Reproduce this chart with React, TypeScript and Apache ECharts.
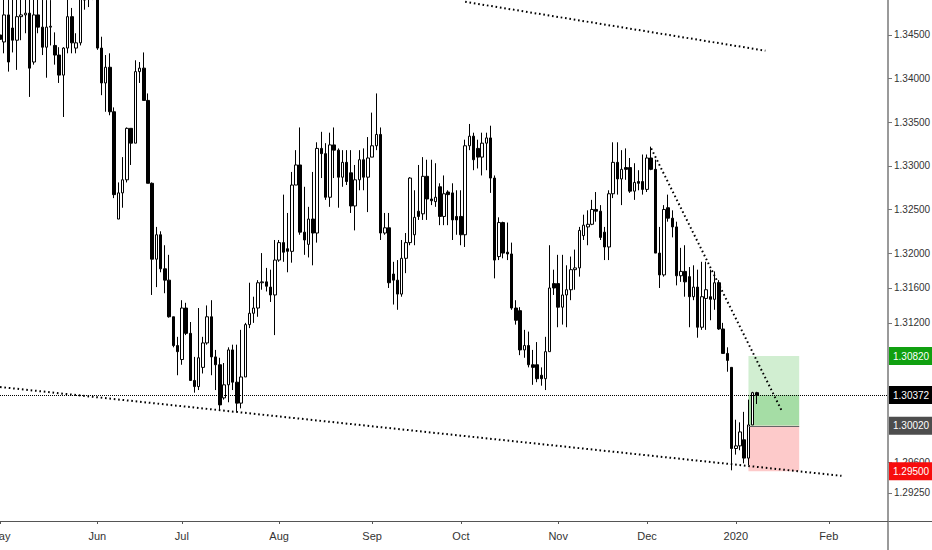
import React, { useEffect, useRef } from "react";
import * as echarts from "echarts";

// ---- calendar (trading days, TradingView style: weekdays, holidays skipped) ----
const START_DATE = "2019-05-01";
const CATEGORY_COUNT = 211;
const SKIPPED_DAYS = ["2019-12-25", "2020-01-01"];
const MONTH_NAMES = ["Jan", "Feb", "Mar", "Apr", "May", "Jun", "Jul", "Aug", "Sep", "Oct", "Nov", "Dec"];

// ---- daily OHLC (USD/CAD) ----
const opens = [
  1.3450, 1.3442, 1.3473, 1.3458, 1.3444, 1.3471, 1.3473, 1.3475, 1.3419, 1.3473,
  1.3459, 1.3436, 1.3459, 1.3438, 1.3427, 1.3404, 1.3435, 1.3471, 1.3435, 1.3441,
  1.3493, 1.3495, 1.3500, 1.3510, 1.3435, 1.3395, 1.3413, 1.3362, 1.3239, 1.3269,
  1.3284, 1.3343, 1.3326, 1.3408, 1.3412, 1.3375, 1.3280, 1.3193, 1.3221, 1.3182,
  1.3169, 1.3127, 1.3094, 1.3078, 1.3137, 1.3108, 1.3054, 1.3047, 1.3069, 1.3097,
  1.3127, 1.3081, 1.3072, 1.3034, 1.3049, 1.3089, 1.3052, 1.3028, 1.3058, 1.3118,
  1.3131, 1.3137, 1.3166, 1.3167, 1.3161, 1.3152, 1.3192, 1.3212, 1.3205, 1.3202,
  1.3278, 1.3301, 1.3224, 1.3210, 1.3239, 1.3223, 1.3320, 1.3314, 1.3264, 1.3324,
  1.3318, 1.3287, 1.3304, 1.3292, 1.3254, 1.3284, 1.3307, 1.3287, 1.3310, 1.3323,
  1.3336, 1.3223, 1.3229, 1.3176, 1.3169, 1.3153, 1.3194, 1.3212, 1.3221, 1.3248,
  1.3245, 1.3288, 1.3262, 1.3259, 1.3276, 1.3242, 1.3270, 1.3269, 1.3242, 1.3242,
  1.3221, 1.3323, 1.3334, 1.3320, 1.3310, 1.3326, 1.3332, 1.3286, 1.3196, 1.3235,
  1.3201, 1.3199, 1.3137, 1.3134, 1.3089, 1.3094, 1.3072, 1.3072, 1.3060, 1.3056,
  1.3087, 1.3165, 1.3165, 1.3138, 1.3152, 1.3158, 1.3181, 1.3183, 1.3220, 1.3230,
  1.3233, 1.3250, 1.3248, 1.3224, 1.3207, 1.3268, 1.3304, 1.3285, 1.3298, 1.3298,
  1.3271, 1.3282, 1.3282, 1.3273, 1.3309, 1.3296, 1.3200, 1.3175, 1.3252, 1.3240,
  1.3230, 1.3174, 1.3179, 1.3173, 1.3150, 1.3161, 1.3115, 1.3148, 1.3150, 1.3147,
  1.3166, 1.3113, 1.3085, 1.3069, 1.2976, 1.2979, 1.2986, 1.2965, 1.3003, 1.3040,
];
const closes = [
  1.3445, 1.3473, 1.3419, 1.3444, 1.3471, 1.3473, 1.3475, 1.3412, 1.3473, 1.3459,
  1.3436, 1.3459, 1.3460, 1.3427, 1.3404, 1.3435, 1.3471, 1.3441, 1.3441, 1.3493,
  1.3490, 1.3500, 1.3510, 1.3435, 1.3395, 1.3413, 1.3362, 1.3267, 1.3269, 1.3284,
  1.3343, 1.3326, 1.3408, 1.3412, 1.3375, 1.3280, 1.3193, 1.3221, 1.3182, 1.3169,
  1.3127, 1.3094, 1.3087, 1.3137, 1.3108, 1.3054, 1.3047, 1.3080, 1.3097, 1.3127,
  1.3081, 1.3072, 1.3026, 1.3049, 1.3089, 1.3052, 1.3028, 1.3058, 1.3118, 1.3131,
  1.3137, 1.3166, 1.3167, 1.3162, 1.3152, 1.3192, 1.3212, 1.3201, 1.3202, 1.3278,
  1.3301, 1.3224, 1.3215, 1.3239, 1.3223, 1.3320, 1.3314, 1.3264, 1.3324, 1.3318,
  1.3287, 1.3304, 1.3282, 1.3254, 1.3284, 1.3307, 1.3287, 1.3309, 1.3323, 1.3336,
  1.3223, 1.3229, 1.3166, 1.3169, 1.3153, 1.3194, 1.3212, 1.3286, 1.3241, 1.3242,
  1.3288, 1.3262, 1.3260, 1.3264, 1.3242, 1.3268, 1.3267, 1.3238, 1.3238, 1.3221,
  1.3323, 1.3334, 1.3307, 1.3310, 1.3326, 1.3332, 1.3286, 1.3192, 1.3235, 1.3200,
  1.3199, 1.3137, 1.3123, 1.3089, 1.3094, 1.3072, 1.3069, 1.3056, 1.3056, 1.3087,
  1.3160, 1.3160, 1.3138, 1.3152, 1.3158, 1.3181, 1.3183, 1.3226, 1.3232, 1.3233,
  1.3250, 1.3248, 1.3218, 1.3207, 1.3268, 1.3304, 1.3285, 1.3296, 1.3296, 1.3271,
  1.3281, 1.3280, 1.3273, 1.3309, 1.3296, 1.3200, 1.3175, 1.3250, 1.3240, 1.3230,
  1.3174, 1.3179, 1.3167, 1.3150, 1.3161, 1.3115, 1.3150, 1.3158, 1.3147, 1.3166,
  1.3113, 1.3085, 1.3077, 1.2976, 1.2979, 1.2995, 1.2965, 1.3003, 1.3040, 1.3037,
];
const lows = [
  1.3387, 1.3429, 1.3408, 1.3430, 1.3410, 1.3444, 1.3452, 1.3379, 1.3416, 1.3452,
  1.3427, 1.3401, 1.3438, 1.3416, 1.3395, 1.3356, 1.3429, 1.3429, 1.3429, 1.3438,
  1.3479, 1.3482, 1.3490, 1.3433, 1.3381, 1.3362, 1.3358, 1.3263, 1.3239, 1.3252,
  1.3281, 1.3301, 1.3326, 1.3395, 1.3375, 1.3280, 1.3152, 1.3161, 1.3178, 1.3154,
  1.3126, 1.3092, 1.3060, 1.3072, 1.3106, 1.3054, 1.3040, 1.3043, 1.3062, 1.3095,
  1.3060, 1.3043, 1.3020, 1.3032, 1.3029, 1.3043, 1.3018, 1.3022, 1.3058, 1.3114,
  1.3120, 1.3127, 1.3158, 1.3156, 1.3144, 1.3106, 1.3190, 1.3190, 1.3178, 1.3189,
  1.3278, 1.3221, 1.3198, 1.3195, 1.3186, 1.3212, 1.3286, 1.3261, 1.3253, 1.3286,
  1.3252, 1.3276, 1.3278, 1.3246, 1.3226, 1.3272, 1.3272, 1.3247, 1.3310, 1.3318,
  1.3215, 1.3221, 1.3160, 1.3141, 1.3135, 1.3150, 1.3177, 1.3209, 1.3209, 1.3238,
  1.3238, 1.3238, 1.3255, 1.3253, 1.3232, 1.3232, 1.3232, 1.3215, 1.3221, 1.3209,
  1.3207, 1.3318, 1.3295, 1.3297, 1.3289, 1.3295, 1.3269, 1.3171, 1.3192, 1.3194,
  1.3192, 1.3135, 1.3118, 1.3083, 1.3080, 1.3069, 1.3049, 1.3052, 1.3048, 1.3043,
  1.3087, 1.3152, 1.3115, 1.3118, 1.3115, 1.3146, 1.3158, 1.3173, 1.3215, 1.3209,
  1.3232, 1.3236, 1.3215, 1.3192, 1.3192, 1.3263, 1.3267, 1.3255, 1.3284, 1.3269,
  1.3261, 1.3272, 1.3267, 1.3270, 1.3295, 1.3200, 1.3160, 1.3173, 1.3236, 1.3218,
  1.3163, 1.3167, 1.3150, 1.3115, 1.3146, 1.3103, 1.3112, 1.3112, 1.3123, 1.3135,
  1.3112, 1.3085, 1.3064, 1.2951, 1.2969, 1.2974, 1.2959, 1.2957, 1.3003, 1.3027,
];
const highs = [
  1.3462, 1.3495, 1.3492, 1.3492, 1.3495, 1.3495, 1.3498, 1.3497, 1.3495, 1.3495,
  1.3492, 1.3490, 1.3490, 1.3453, 1.3436, 1.3436, 1.3492, 1.3481, 1.3452, 1.3505,
  1.3505, 1.3520, 1.3525, 1.3515, 1.3448, 1.3427, 1.3429, 1.3367, 1.3281, 1.3310,
  1.3344, 1.3343, 1.3421, 1.3419, 1.3430, 1.3383, 1.3281, 1.3230, 1.3225, 1.3209,
  1.3198, 1.3127, 1.3104, 1.3146, 1.3143, 1.3121, 1.3081, 1.3137, 1.3104, 1.3140,
  1.3146, 1.3089, 1.3080, 1.3074, 1.3092, 1.3095, 1.3095, 1.3112, 1.3120, 1.3166,
  1.3150, 1.3169, 1.3200, 1.3183, 1.3181, 1.3215, 1.3215, 1.3267, 1.3246, 1.3293,
  1.3318, 1.3344, 1.3276, 1.3253, 1.3293, 1.3327, 1.3339, 1.3326, 1.3338, 1.3344,
  1.3320, 1.3318, 1.3318, 1.3318, 1.3301, 1.3318, 1.3320, 1.3333, 1.3361, 1.3383,
  1.3344, 1.3246, 1.3246, 1.3190, 1.3192, 1.3215, 1.3223, 1.3287, 1.3272, 1.3301,
  1.3310, 1.3307, 1.3307, 1.3303, 1.3280, 1.3289, 1.3272, 1.3280, 1.3272, 1.3272,
  1.3330, 1.3348, 1.3338, 1.3330, 1.3338, 1.3338, 1.3346, 1.3289, 1.3241, 1.3236,
  1.3235, 1.3212, 1.3146, 1.3138, 1.3112, 1.3110, 1.3089, 1.3098, 1.3069, 1.3104,
  1.3209, 1.3181, 1.3198, 1.3198, 1.3186, 1.3196, 1.3204, 1.3230, 1.3244, 1.3249,
  1.3261, 1.3270, 1.3255, 1.3230, 1.3272, 1.3327, 1.3327, 1.3318, 1.3320, 1.3309,
  1.3303, 1.3295, 1.3313, 1.3313, 1.3322, 1.3307, 1.3230, 1.3255, 1.3267, 1.3249,
  1.3236, 1.3206, 1.3209, 1.3184, 1.3186, 1.3181, 1.3190, 1.3190, 1.3181, 1.3179,
  1.3169, 1.3120, 1.3092, 1.3069, 1.3009, 1.3006, 1.3018, 1.3032, 1.3041, 1.3041,
];

// ---- price axis ----
const Y_MIN = 1.28929;
const Y_MAX = 1.34901;
const Y_TICKS = [1.2925, 1.296, 1.312, 1.316, 1.32, 1.325, 1.33, 1.335, 1.34, 1.345];

// ---- drawings ----
const LAST_PRICE = 1.30372;
const TARGET_PRICE = 1.3082;
const ENTRY_PRICE = 1.3002;
const STOP_PRICE = 1.295;
const POSITION_FROM = 177; // trading-day index
const POSITION_TO = 189;
// [ [fromIndex, fromPrice], [toIndex, toPrice] ]
const TREND_LINES = [
  [[110, 1.3488], [181, 1.3432]],
  [[0, 1.30465], [199, 1.29447]],
  [[154, 1.332], [185, 1.3018]],
];

const W = 932;
const H = 550;
const GRID_RIGHT = 44;
const GRID_BOTTOM = 29;
const FONT = '"Liberation Sans", Arial, sans-serif';

function tradingDays(): string[] {
  const out: string[] = [];
  const d = new Date(START_DATE + "T00:00:00Z");
  while (out.length < CATEGORY_COUNT) {
    const wd = d.getUTCDay();
    const s = d.toISOString().slice(0, 10);
    if (wd !== 0 && wd !== 6 && SKIPPED_DAYS.indexOf(s) < 0) out.push(s);
    d.setUTCDate(d.getUTCDate() + 1);
  }
  return out;
}

export default function App() {
  const ref = useRef<HTMLDivElement>(null);

  useEffect(() => {
    if (!ref.current) return;
    const chart = echarts.init(ref.current, undefined, { renderer: "svg" });
    const dates = tradingDays();
    const monthStart = dates.map((s, i) => i === 0 || s.slice(5, 7) !== dates[i - 1].slice(5, 7));
    const candles = opens.map((o, i) => [o, closes[i], lows[i], highs[i]]);

    const priceTag = (value: number, bg: string, lineStyle: any) => ({
      yAxis: value,
      lineStyle,
      label: {
        show: true,
        position: "end",
        distance: 1,
        formatter: value.toFixed(5),
        color: "#fff",
        opacity: 1,
        backgroundColor: bg,
        padding: [4, 3, 4, 4],
        fontSize: 10,
        fontFamily: FONT,
      },
    });
    const hidden = { color: "rgba(0,0,0,0)", width: 1, type: "solid" };

    const trendData = TREND_LINES.map(([a, b]) => [
      { coord: a, lineStyle: { color: "#000", width: 2, type: [1.6, 2.8] }, label: { show: false } },
      { coord: b },
    ]);

    chart.setOption({
      animation: false,
      grid: {
        left: 0,
        right: GRID_RIGHT,
        top: 0,
        bottom: GRID_BOTTOM,
        containLabel: false,
        outerBoundsMode: "none",
      },
      xAxis: {
        type: "category",
        data: dates,
        boundaryGap: false,
        axisLine: { show: true, lineStyle: { color: "#555", width: 1 } },
        axisTick: {
          show: true,
          length: 3,
          interval: (i: number) => monthStart[i],
          lineStyle: { color: "#555" },
        },
        axisLabel: {
          show: true,
          interval: (i: number) => monthStart[i],
          margin: 9,
          fontSize: 11,
          color: "#333",
          fontFamily: FONT,
          formatter: (v: string) => {
            const m = parseInt(v.slice(5, 7), 10);
            return m === 1 ? v.slice(0, 4) : MONTH_NAMES[m - 1];
          },
        },
        splitLine: { show: false },
      },
      yAxis: {
        type: "value",
        position: "right",
        min: Y_MIN,
        max: Y_MAX,
        scale: true,
        splitLine: { show: false },
        axisLine: { show: true, lineStyle: { color: "#9a9a9a", width: 2 } },
        axisTick: { show: true, length: 4, customValues: Y_TICKS, lineStyle: { color: "#777" } },
        axisLabel: {
          show: true,
          customValues: Y_TICKS,
          margin: 6,
          fontSize: 10,
          color: "#333",
          fontFamily: FONT,
          formatter: (v: number) => v.toFixed(5),
        },
      },
      series: [
        {
          type: "candlestick",
          data: candles,
          barWidth: 3,
          clip: true,
          itemStyle: {
            color: "#fff",
            color0: "#000",
            borderColor: "#000",
            borderColor0: "#000",
            borderWidth: 1,
          },
          markArea: {
            silent: true,
            data: [
              [
                { coord: [POSITION_FROM, LAST_PRICE], itemStyle: { color: "#d1eed1" } },
                { coord: [POSITION_TO, TARGET_PRICE] },
              ],
              [
                { coord: [POSITION_FROM, ENTRY_PRICE], itemStyle: { color: "#a5dda5" } },
                { coord: [POSITION_TO, LAST_PRICE] },
              ],
              [
                { coord: [POSITION_FROM, STOP_PRICE], itemStyle: { color: "#fdcaca" } },
                { coord: [POSITION_TO, ENTRY_PRICE] },
              ],
            ],
          },
          markLine: {
            silent: true,
            symbol: ["none", "none"],
            precision: 5,
            data: [
              [
                { coord: [POSITION_FROM, ENTRY_PRICE], lineStyle: { color: "#666", width: 1, type: "solid" }, label: { show: false } },
                { coord: [POSITION_TO, ENTRY_PRICE] },
              ],
              ...trendData,
              priceTag(LAST_PRICE, "#000", { color: "#000", width: 1, type: [1, 1] }),
              priceTag(TARGET_PRICE, "#10a010", hidden),
              priceTag(ENTRY_PRICE, "#4d4d4d", hidden),
              priceTag(STOP_PRICE, "#f70d0d", hidden),
            ],
          },
        },
      ],
      graphic: [
        {
          type: "line",
          silent: true,
          shape: { x1: W - GRID_RIGHT, y1: H - GRID_BOTTOM, x2: W - GRID_RIGHT, y2: H },
          style: { stroke: "#9a9a9a", lineWidth: 2 },
        },
        {
          type: "line",
          silent: true,
          shape: { x1: W - GRID_RIGHT, y1: H - GRID_BOTTOM + 0.5, x2: W, y2: H - GRID_BOTTOM + 0.5 },
          style: { stroke: "#555", lineWidth: 1 },
        },
      ],
    });

    return () => chart.dispose();
  }, []);

  return (
    <div
      ref={ref}
      style={{ position: "absolute", left: 0, top: 0, width: W, height: H, background: "#fff" }}
    />
  );
}
